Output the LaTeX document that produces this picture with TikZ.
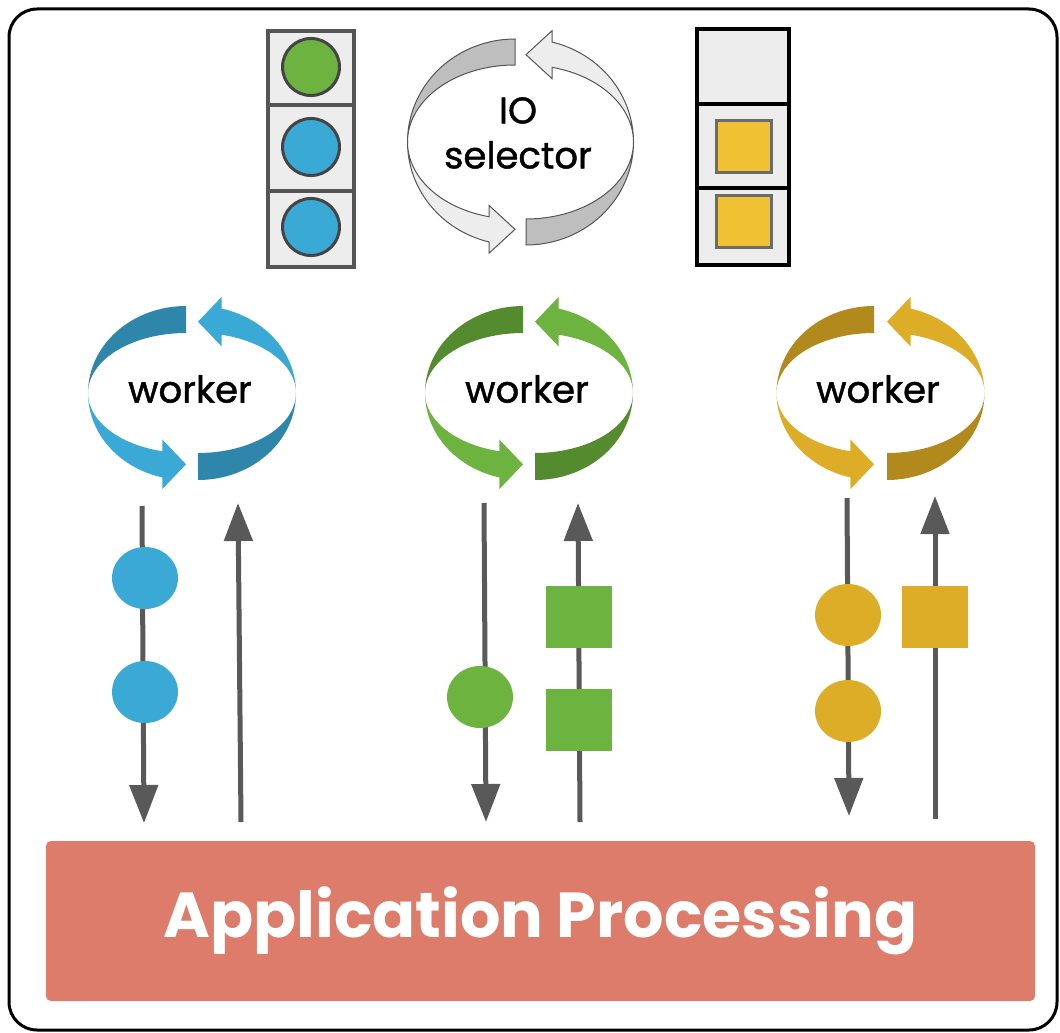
\documentclass[tikz,border=0pt]{standalone}
\usepackage{fontspec}
\setmainfont{Poppins}
\newfontfamily\medfont{Poppins}[FakeBold=1.2]
\usetikzlibrary{shapes.geometric, arrows.meta}
\definecolor{cBlue}{HTML}{3BA9D6}
\definecolor{cBlueD}{HTML}{2E86AB}
\definecolor{cGreen}{HTML}{6DB33F}
\definecolor{cGreenD}{HTML}{548B2F}
\definecolor{cGold}{HTML}{DDAD27}
\definecolor{cGoldD}{HTML}{B1891D}
\definecolor{cYel}{HTML}{F0C132}
\definecolor{cCell}{HTML}{EDEDED}
\definecolor{cIOback}{HTML}{BEBEBE}
\definecolor{cIOline}{HTML}{555555}
\definecolor{cArrow}{HTML}{595959}
\definecolor{cRim}{HTML}{444444}
\definecolor{cRimL}{HTML}{6B6B6B}
\definecolor{cApp}{HTML}{DE7C6B}
\tikzset{
	flow/.style   ={draw=cArrow, line width=5pt, -{Triangle[length=38pt, width=28pt]}},
	tokc/.style   ={ellipse, minimum width=66pt, minimum height=62pt, inner sep=0pt},
	toks/.style   ={rectangle, minimum width=66pt, minimum height=62pt, inner sep=0pt},
	qball/.style  ={circle, draw=cRim, line width=3pt, minimum size=57pt, inner sep=0pt},
	qbox/.style   ={rectangle, draw=cRimL, line width=3pt, minimum width=55pt, minimum height=52pt, inner sep=0pt, fill=cYel},
	wlabel/.style ={font=\medfont\fontsize{37}{40}\selectfont},
	app/.style    ={rectangle, rounded corners=5pt, fill=cApp, minimum width=989pt, minimum height=160pt, text=white, font=\bfseries\fontsize{63.5}{70}\selectfont},
}
% two-part cycle ribbon: centre, half gap, rx, outer ry, inner ry, back colour, front colour, extra
\newcommand{\loopband}[9]{%
	\pgfmathsetmacro{\lx}{#1-#3}
	\pgfmathsetmacro{\rx}{#1+#3}
	\pgfmathsetmacro{\hw}{0.92*(#5-#6)}
	\pgfmathsetmacro{\mr}{(#5+#6)/2}
	\pgfmathsetmacro{\hxl}{\lx+#4*cos(256)}
	\pgfmathsetmacro{\hyl}{#2-\mr*sin(256)}
	\pgfmathsetmacro{\hxr}{\rx+#4*cos(76)}
	\pgfmathsetmacro{\hyr}{#2-\mr*sin(76)}
	\path[fill=#7,#9] plot[domain=90:180,samples=40] ({\lx+#4*cos(\x)},{#2-#5*sin(\x)})
		-- plot[domain=180:90,samples=40] ({\lx+#4*cos(\x)},{#2-#6*sin(\x)}) -- cycle;
	\path[fill=#8,#9] plot[domain=180:256,samples=40] ({\lx+#4*cos(\x)},{#2-#5*sin(\x)})
		-- (\hxl,\hyl+\hw) -- (\lx,\hyl) -- (\hxl,\hyl-\hw)
		-- plot[domain=256:180,samples=40] ({\lx+#4*cos(\x)},{#2-#6*sin(\x)}) -- cycle;
	\path[fill=#7,#9] plot[domain=-90:0,samples=40] ({\rx+#4*cos(\x)},{#2-#5*sin(\x)})
		-- plot[domain=0:-90,samples=40] ({\rx+#4*cos(\x)},{#2-#6*sin(\x)}) -- cycle;
	\path[fill=#8,#9] plot[domain=0:76,samples=40] ({\rx+#4*cos(\x)},{#2-#5*sin(\x)})
		-- (\hxr,\hyr-\hw) -- (\rx,\hyr) -- (\hxr,\hyr+\hw)
		-- plot[domain=76:0,samples=40] ({\rx+#4*cos(\x)},{#2-#6*sin(\x)}) -- cycle;
}
\begin{document}
\begin{tikzpicture}[x=1pt, y=-1pt]
	\useasboundingbox (0,0) rectangle (1060,1033);
	\draw[line width=3pt, rounded corners=28pt] (9,9) rectangle (1057,1030);

	% queue of ready channels
	\draw[draw=cIOline, line width=3.3pt, fill=cCell] (268,31) rectangle (354,267);
	\draw[draw=cIOline, line width=3.3pt] (268,105) -- (354,105) (268,191) -- (354,191);
	\foreach \y/\c [count=\i] in {67/cGreen, 147/cBlue, 227/cBlue}
		\node[qball, fill=\c] (q\i) at (311,\y) {};

	% queue of results
	\draw[line width=3.5pt, fill=cCell] (697,29) rectangle (789,265);
	\draw[line width=3.5pt] (697,104) -- (789,104) (697,188) -- (789,188);
	\node[qbox] (r1) at (744,146.5) {};
	\node[qbox] (r2) at (744,221.5) {};

	% selector loop
	\loopband{520.5}{142}{5.5}{107.5}{103}{77}{cIOback}{cCell}{draw=cIOline, line width=1pt}
	\node[font=\medfont\fontsize{37}{45}\selectfont, align=center] (sel) at (518,133) {IO\\selector};

	% worker loops
	\loopband{192}{393}{6}{98}{87}{60}{cBlueD}{cBlue}{}
	\loopband{529}{393}{6}{98}{87}{60}{cGreenD}{cGreen}{}
	\loopband{880.5}{393}{6.5}{97.5}{87}{60}{cGoldD}{cGold}{}
	\node[wlabel] (w1) at (190,389) {worker};
	\node[wlabel] (w2) at (527,389) {worker};
	\node[wlabel] (w3) at (878,389) {worker};

	\node[app] (app) at (540.5,921) {Application Processing};

	% request / response lanes
	\coordinate (d1s) at (142,506); \coordinate (d1e) at (144,823);
	\coordinate (u1s) at (241,822); \coordinate (u1e) at (238,503);
	\coordinate (d2s) at (484,503); \coordinate (d2e) at (486,822);
	\coordinate (u2s) at (580,822); \coordinate (u2e) at (578,503);
	\coordinate (d3s) at (847,498); \coordinate (d3e) at (849,816);
	\coordinate (u3s) at (935,819); \coordinate (u3e) at (935,496);
	\draw[flow] (d1s) -- (d1e); \draw[flow] (u1s) -- (u1e);
	\draw[flow] (d2s) -- (d2e); \draw[flow] (u2s) -- (u2e);
	\draw[flow] (d3s) -- (d3e); \draw[flow] (u3s) -- (u3e);

	\node[tokc, fill=cBlue] (b1) at (145,578) {};
	\node[tokc, fill=cBlue] (b2) at (145,692) {};
	\node[tokc, fill=cGreen] (g1) at (480,697) {};
	\node[toks, fill=cGreen] (g2) at (579,617) {};
	\node[toks, fill=cGreen] (g3) at (579,720) {};
	\node[tokc, fill=cGold] (y1) at (848,615) {};
	\node[tokc, fill=cGold] (y2) at (848,711) {};
	\node[toks, fill=cGold] (y3) at (935,617) {};
\end{tikzpicture}
\end{document}
